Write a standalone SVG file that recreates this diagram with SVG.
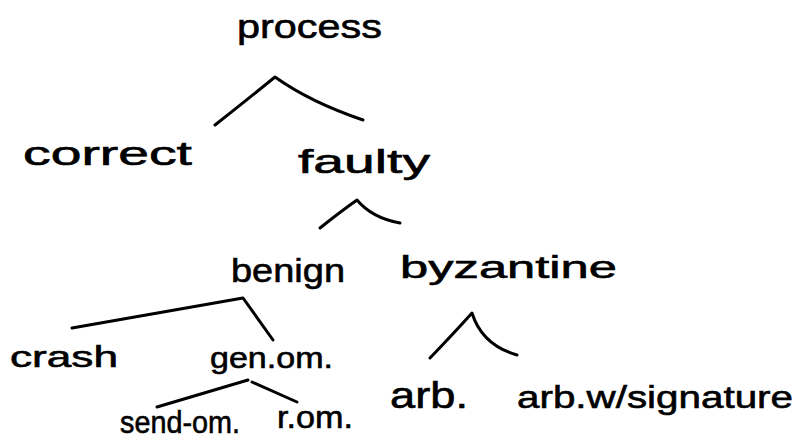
<svg xmlns="http://www.w3.org/2000/svg" width="797" height="440" viewBox="0 0 797 440">
<style>
text{font-family:"Liberation Sans","DejaVu Sans",sans-serif;fill:#000;font-size:34px;stroke:#000;stroke-width:0.6}
.s30{font-size:30px}
.s32{font-size:32px}
.s36{font-size:36px}
.edge{fill:none;stroke:#000;stroke-width:3;stroke-linecap:round;stroke-linejoin:round}
</style>
<rect width="797" height="440" fill="#fff"/>
<g id="connectors">
<path class="edge" d="M215,125 Q248,99 275,77 Q310,102 363,120"/>
<path class="edge" d="M320,228 Q340,212 357,200 Q372,218 400,223"/>
<path class="edge" d="M72,328 L243,298 L273,340"/>
<path class="edge" d="M430,358 Q455,332 472,313 Q482,345 517,355"/>
<path class="edge" d="M157,407 L248,380 M252,382 L297,402"/>
</g>
<g id="process"><text x="237" y="38" textLength="145" lengthAdjust="spacingAndGlyphs">process</text></g>
<g id="correct"><text x="23" y="165" textLength="169" lengthAdjust="spacingAndGlyphs">correct</text></g>
<g id="faulty"><text x="298" y="173" textLength="132" lengthAdjust="spacingAndGlyphs">faulty</text></g>
<g id="benign"><text x="231" y="282" textLength="114" lengthAdjust="spacingAndGlyphs">benign</text></g>
<g id="byzantine"><text class="s32" x="400" y="278" textLength="217" lengthAdjust="spacingAndGlyphs">byzantine</text></g>
<g id="crash"><text class="s30" x="10" y="367" textLength="108" lengthAdjust="spacingAndGlyphs">crash</text></g>
<g id="gen-om"><text class="s30" x="210" y="368" textLength="123" lengthAdjust="spacingAndGlyphs">gen.om.</text></g>
<g id="send-om"><text class="s32" x="120" y="433" textLength="120" lengthAdjust="spacingAndGlyphs">send-om.</text></g>
<g id="r-om"><text class="s32" x="277" y="428" textLength="76" lengthAdjust="spacingAndGlyphs">r.om.</text></g>
<g id="arb"><text class="s36" x="390" y="408" textLength="78" lengthAdjust="spacingAndGlyphs">arb.</text></g>
<g id="arb-w-signature"><text class="s32" x="517" y="408" textLength="276" lengthAdjust="spacingAndGlyphs">arb.w/signature</text></g>
</svg>
